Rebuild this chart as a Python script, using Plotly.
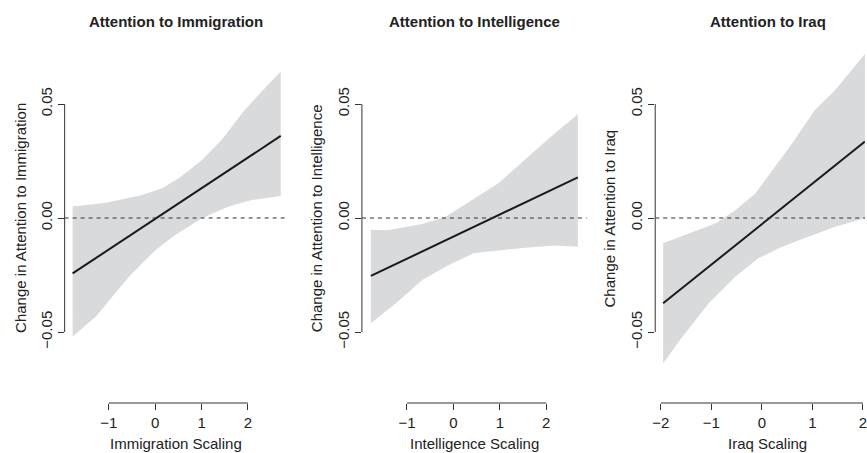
import plotly.graph_objects as go

# ---------------- data ----------------
titles = ["Attention to Immigration", "Attention to Intelligence", "Attention to Iraq"]
xtitles = ["Immigration Scaling", "Intelligence Scaling", "Iraq Scaling"]
ytitles = ["Change in Attention to Immigration", "Change in Attention to Intelligence",
           "Change in Attention to Iraq"]

# Immigration
imm_fit_x = [-1.777, 2.705]
imm_fit_y = [-0.0243, 0.0360]
imm_up_x = [-1.777, -1.06, -0.28, 0.15, 0.51, 1.01, 1.43, 1.93, 2.29, 2.705]
imm_up_y = [0.0050, 0.0067, 0.0101, 0.0130, 0.0174, 0.0254, 0.0342, 0.0474, 0.0554, 0.0642]
imm_lo_x = [-1.777, -1.28, -0.56, 0.01, 0.43, 1.01, 1.58, 2.08, 2.705]
imm_lo_y = [-0.0520, -0.0433, -0.0257, -0.0140, -0.0075, -0.0001, 0.0050, 0.0079, 0.0096]

# Intelligence
int_fit_x = [-1.777, 2.68]
int_fit_y = [-0.0254, 0.0178]
int_up_x = [-1.777, -1.39, -0.67, -0.17, 0.40, 0.97, 1.61, 2.18, 2.68]
int_up_y = [-0.0053, -0.0053, -0.0026, 0.0006, 0.0079, 0.0152, 0.0269, 0.0371, 0.0455]
int_lo_x = [-1.777, -1.24, -0.67, -0.10, 0.43, 0.97, 1.61, 2.18, 2.68]
int_lo_y = [-0.0462, -0.0374, -0.0272, -0.0206, -0.0155, -0.0143, -0.0129, -0.0121, -0.0126]

# Iraq
irq_fit_x = [-1.955, 2.04]
irq_fit_y = [-0.0374, 0.0335]
irq_up_x = [-1.955, -1.70, -1.37, -0.91, -0.52, -0.13, 0.26, 0.60, 1.05, 1.45, 1.78, 2.04]
irq_up_y = [-0.0111, -0.0089, -0.0060, -0.0023, 0.0035, 0.0108, 0.0225, 0.0328, 0.0474,
            0.0561, 0.0649, 0.0720]
irq_lo_x = [-1.955, -1.57, -1.05, -0.52, -0.07, 0.40, 0.92, 1.45, 2.04]
irq_lo_y = [-0.0637, -0.0520, -0.0374, -0.0257, -0.0177, -0.0126, -0.0082, -0.0038, -0.0001]

x_ticks = [[-1, 0, 1, 2], [-1, 0, 1, 2], [-2, -1, 0, 1, 2]]
y_ticks = [-0.05, 0.00, 0.05]

panels = [
    (imm_fit_x, imm_fit_y, imm_up_x, imm_up_y, imm_lo_x, imm_lo_y),
    (int_fit_x, int_fit_y, int_up_x, int_up_y, int_lo_x, int_lo_y),
    (irq_fit_x, irq_fit_y, irq_up_x, irq_up_y, irq_lo_x, irq_lo_y),
]

# ---------------- layout geometry ----------------
W, H = 867, 453
x_dom_px = [(62, 287), (361, 587), (656, 867)]
x_ranges = [[-1.949, 2.869], [-1.970, 2.869], [-2.112, 2.041]]
y_dom = [1 - 403 / H, 1 - 40 / H]
y_range = [-0.08114, 0.07807]

FONT = "Liberation Sans, Arial, Helvetica, sans-serif"
FS = 15
BAND = "#D9DADB"
INK = "#1a1a1a"
AX = "#333333"
TXT = "#222222"

fig = go.Figure()
shapes = []
annotations = []

for i, (fx, fy, ux, uy, lx, ly) in enumerate(panels):
    n = "" if i == 0 else str(i + 1)
    xa, ya = "x" + n, "y" + n
    # confidence band polygon
    fig.add_trace(go.Scatter(
        x=ux + lx[::-1], y=uy + ly[::-1], mode="lines", fill="toself",
        fillcolor=BAND, line=dict(width=0, color=BAND), hoverinfo="skip",
        showlegend=False, xaxis=xa, yaxis=ya))
    # fitted line
    fig.add_trace(go.Scatter(
        x=fx, y=fy, mode="lines", line=dict(color=INK, width=2),
        showlegend=False, xaxis=xa, yaxis=ya))

    d0, d1 = x_dom_px[i]
    fig.layout["xaxis" + n] = dict(
        domain=[d0 / W, d1 / W], range=x_ranges[i], anchor=ya,
        showline=False, showgrid=False, zeroline=False,
        tickmode="array", tickvals=x_ticks[i], ticks="outside", ticklen=6,
        tickcolor=AX, tickwidth=1, ticklabeloverflow="allow",
        tickfont=dict(family=FONT, size=FS, color=TXT))
    fig.layout["yaxis" + n] = dict(
        domain=y_dom, range=y_range, anchor=xa,
        showline=False, showgrid=False, zeroline=False,
        tickmode="array", tickvals=y_ticks, tickformat=".2f", ticks="outside",
        ticklen=6, tickcolor=AX, tickwidth=1, tickangle=-90,
        tickfont=dict(family=FONT, size=FS, color=TXT))

    xr = xa if i else "x"
    yr = ya if i else "y"
    # y axis line spanning first to last tick (R style)
    shapes.append(dict(type="line", xref=xr + " domain", x0=0, x1=0,
                       yref=yr, y0=y_ticks[0], y1=y_ticks[-1],
                       line=dict(color=AX, width=1)))
    # x axis line spanning first to last tick
    shapes.append(dict(type="line", xref=xr, x0=x_ticks[i][0], x1=x_ticks[i][-1],
                       yref=yr + " domain", y0=0, y1=0,
                       line=dict(color=AX, width=1)))
    # dashed zero reference line
    shapes.append(dict(type="line", xref=xr + " domain", x0=0, x1=1,
                       yref=yr, y0=0, y1=0,
                       line=dict(color=AX, width=1, dash="4px,4px")))

title_cx = [174.5, 474, 769]
ytitle_cx = [17, 315, 610]
for i in range(3):
    annotations.append(dict(text="<b>" + titles[i] + "</b>", xref="paper", yref="paper",
                            x=title_cx[i] / W, y=1 - 21 / H, showarrow=False,
                            xanchor="center", yanchor="middle",
                            font=dict(family=FONT, size=FS, color=TXT)))
    annotations.append(dict(text=xtitles[i], xref="paper", yref="paper",
                            x=title_cx[i] / W, y=1 - 443 / H, showarrow=False,
                            xanchor="center", yanchor="middle",
                            font=dict(family=FONT, size=FS, color=TXT)))
    annotations.append(dict(text=ytitles[i], xref="paper", yref="paper",
                            x=ytitle_cx[i] / W, y=1 - 218 / H, showarrow=False,
                            textangle=-90, xanchor="center", yanchor="middle",
                            font=dict(family=FONT, size=FS, color=TXT)))

fig.update_layout(
    width=W, height=H, margin=dict(l=0, r=0, t=0, b=0),
    paper_bgcolor="white", plot_bgcolor="white",
    shapes=shapes, annotations=annotations, showlegend=False,
)

fig.write_html("out.html", config={"displayModeBar": False},
               post_script="document.body.style.margin='0px';"
                           "document.body.style.overflow='hidden';")
